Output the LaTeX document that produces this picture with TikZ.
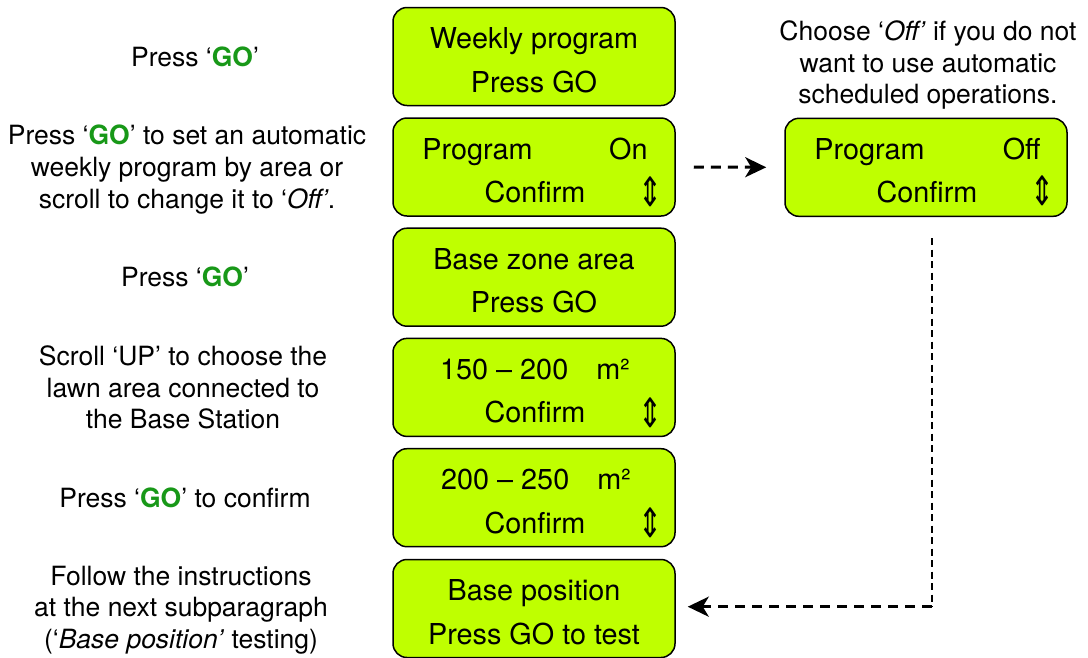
\documentclass[tikz,border=0pt]{standalone}
\usepackage{fontspec}
\setmainfont{TeX Gyre Heros}
\newfontfamily\symfont{DejaVu Sans}
\usetikzlibrary{arrows.meta}
\definecolor{lcd}{RGB}{191,255,0}
\definecolor{gogreen}{RGB}{24,152,24}
\newcommand{\go}{\textcolor{gogreen}{\textbf{GO}}}
\newcommand{\updn}{\resizebox*{24pt}{30pt}{\symfont ⇕}}
\begin{document}
\begin{tikzpicture}[x=1pt,y=-1pt,
  panel/.style={draw, line width=1.5pt, fill=lcd, rounded corners=14pt,
    minimum width=282pt, minimum height=98pt, inner sep=0pt},
  ptext/.style={font=\fontsize{28.8}{43.5}\selectfont, inner sep=0pt},
  note/.style={font=\fontsize{26.5}{31.7}\selectfont, align=center, inner sep=0pt},
  dashA/.style={line width=3pt, dash pattern=on 10pt off 7pt,
    -{Stealth[length=21pt,width=20pt,inset=6pt]}},
  dashB/.style={line width=2.2pt, dash pattern=on 7pt off 4.5pt}
]
\useasboundingbox (0,0) rectangle (1088,657);

% panels
\node[panel] (b1) at (534,56.5) {};
\node[panel] (b2) at (534,167) {};
\node[panel] (b3) at (534,277.2) {};
\node[panel] (b4) at (534,387.4) {};
\node[panel] (b5) at (534,497.7) {};
\node[panel] (b6) at (534,608.5) {};
\node[panel] (r1) at (926,167.3) {};

% panel texts
\node[ptext, anchor=base] (b1a) at ([yshift=8pt]b1.center) {Weekly program};
\node[ptext, anchor=base] (b1b) at ([yshift=-35.5pt]b1.center) {Press GO};

\node[ptext, anchor=base west] (b2a) at ([xshift=30pt,yshift=8pt]b2.west) {Program};
\node[ptext, anchor=base east] (b2b) at ([xshift=-28pt,yshift=8pt]b2.east) {On};
\node[ptext, anchor=base] (b2c) at ([xshift=1pt,yshift=-35.5pt]b2.center) {Confirm};
\node[inner sep=0pt] (b2d) at ([xshift=-25pt,yshift=-25pt]b2.east) {\updn};

\node[ptext, anchor=base] (b3a) at ([yshift=8pt]b3.center) {Base zone area};
\node[ptext, anchor=base] (b3b) at ([yshift=-35.5pt]b3.center) {Press GO};

\node[ptext, anchor=base] (b4a) at ([xshift=1pt,yshift=8pt]b4.center) {150 – 200\hspace{28pt}m²};
\node[ptext, anchor=base] (b4c) at ([xshift=1pt,yshift=-35.5pt]b4.center) {Confirm};
\node[inner sep=0pt] (b4d) at ([xshift=-25pt,yshift=-25pt]b4.east) {\updn};

\node[ptext, anchor=base] (b5a) at ([xshift=2pt,yshift=8pt]b5.center) {200 – 250\hspace{28pt}m²};
\node[ptext, anchor=base] (b5c) at ([xshift=1pt,yshift=-35.5pt]b5.center) {Confirm};
\node[inner sep=0pt] (b5d) at ([xshift=-25pt,yshift=-25pt]b5.east) {\updn};

\node[ptext, anchor=base] (b6a) at ([yshift=8pt]b6.center) {Base position};
\node[ptext, anchor=base] (b6b) at ([yshift=-35.5pt]b6.center) {Press GO to test};

\node[ptext, anchor=base west] (r1a) at ([xshift=30pt,yshift=8pt]r1.west) {Program};
\node[ptext, anchor=base east] (r1b) at ([xshift=-27pt,yshift=8pt]r1.east) {Off};
\node[ptext, anchor=base] (r1c) at ([xshift=1pt,yshift=-35.5pt]r1.center) {Confirm};
\node[inner sep=0pt] (r1d) at ([xshift=-25pt,yshift=-24pt]r1.east) {\updn};

% notes
\node[note] (n1) at (195,56.5) {Press ‘\go’};
\node[note] (n2) at (187,169.6) {Press ‘\go’ to set an automatic\\weekly program by area or\\scroll to change it to ‘\textit{Off’}.};
\node[note] (n3) at (185,277.2) {Press ‘\go’};
\node[note] (n4) at (183,387.4) {Scroll ‘UP’ to choose the\\lawn area connected to\\the Base Station};
\node[note] (n5) at (185,497.7) {Press ‘\go’ to confirm};
\node[note] (n6) at (181,610) {Follow the instructions\\at the next subparagraph\\(‘\textit{Base position’} testing)};
\node[note] (n7) at (928,65) {Choose ‘\textit{Off’} if you do not\\want to use automatic\\scheduled operations.};

% connectors
\draw[dashA] ([xshift=18pt]b2.east) -- ([xshift=-18pt]r1.west);
\coordinate (v0) at ([xshift=5.7pt,yshift=-21pt]r1.south);
\coordinate (v1) at ([yshift=1.8pt]v0 |- b6.center);
\draw[dashB] (v0) -- (v1);
\draw[dashA] (v1) -- ([xshift=12pt,yshift=1.8pt]b6.east);
\end{tikzpicture}
\end{document}
